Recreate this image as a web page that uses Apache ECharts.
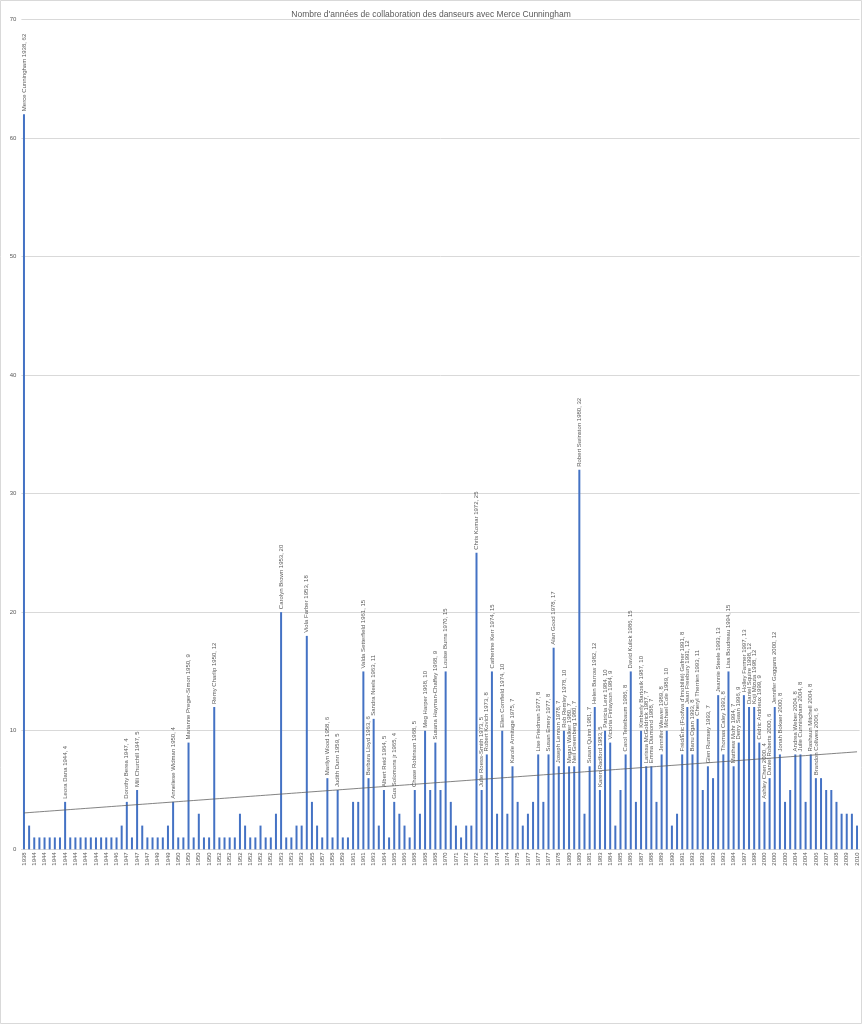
<!DOCTYPE html>
<html>
<head>
<meta charset="utf-8">
<script src="https://cdn.jsdelivr.net/npm/echarts@6/dist/echarts.min.js"></script>
<style>
html,body{margin:0;padding:0;background:#fff;}
#chart{width:862px;height:1024px;}
</style>
</head>
<body>
<div id="chart"></div>
<script>
const title = "Nombre d'années de collaboration des danseurs avec Merce Cunningham";

// start year of each dancer (category axis)
const years = [
 '1938','1944','1944','1944','1944','1944','1944','1944','1944','1944',
 '1944','1944','1944','1944','1944','1944','1944','1944','1946','1947',
 '1947','1947','1947','1947','1947','1948','1949','1949','1949','1950',
 '1950','1950','1950','1950','1950','1950','1950','1950','1952','1952',
 '1952','1952','1952','1952','1952','1952','1952','1952','1952','1952',
 '1953','1953','1953','1953','1953','1953','1955','1955','1957','1958',
 '1958','1959','1959','1960','1961','1961','1961','1963','1963','1963',
 '1964','1964','1965','1965','1966','1967','1968','1968','1968','1968',
 '1968','1969','1970','1970','1971','1971','1972','1972','1972','1973',
 '1973','1974','1974','1974','1974','1975','1975','1976','1977','1977',
 '1977','1977','1977','1978','1978','1978','1980','1980','1980','1980',
 '1981','1982','1983','1984','1984','1984','1985','1986','1986','1986',
 '1987','1987','1988','1988','1989','1989','1990','1990','1991','1991',
 '1993','1993','1993','1993','1993','1993','1993','1994','1994','1996',
 '1997','1998','1998','1999','2000','2000','2000','2000','2000','2002',
 '2004','2004','2004','2004','2006','2006','2007','2007','2008','2008',
 '2009','2009','2010'
];

// years of collaboration
const values = [
 62,2,1,1,1,1,1,1,4,1,
 1,1,1,1,1,1,1,1,1,2,
 4,1,5,2,1,1,1,1,2,4,
 1,1,9,1,3,1,1,12,1,1,
 1,1,3,2,1,1,2,1,1,3,
 20,1,1,2,2,18,4,2,1,6,
 1,5,1,1,4,4,15,6,11,2,
 5,1,4,3,2,1,5,3,10,5,
 9,5,15,4,2,1,2,2,25,5,
 8,15,3,10,3,7,4,2,3,4,
 8,4,8,17,7,10,7,7,32,3,
 7,12,5,10,9,2,5,8,15,4,
 10,7,7,4,8,10,2,3,8,12,
 8,11,5,7,6,13,8,15,7,9,
 13,12,12,9,4,6,12,8,4,5,
 8,8,4,8,6,6,5,5,4,3,
 3,3,2
];

// labelled dancers: [bar number (1-based), name]
const labelledDancers = [
 [1,'Merce Cunningham'],[9,'Leora Dana'],[21,'Dorothy Berea'],[23,'Mili Churchill'],
 [30,'Anneliese Widman'],[33,'Marianne Preger-Simon'],[38,'Remy Charlip'],
 [51,'Carolyn Brown'],[56,'Viola Farber'],[60,'Marilyn Wood'],[62,'Judith Dunn'],
 [67,'Valda Setterfield'],[68,'Barbara Lloyd'],[69,'Sandra Neels'],[71,'Albert Reid'],
 [73,'Gus Solomons jr'],[77,'Chase Robinson'],[79,'Meg Harper'],[81,'Susana Hayman-Chaffey'],
 [83,'Louise Burns'],[89,'Chris Komar'],[90,'Julie Roess-Smith'],[91,'Robert Kovich'],
 [92,'Catherine Kerr'],[94,'Ellen Cornfield'],[96,'Karole Armitage'],[101,'Lise Friedman'],
 [103,'Susan Emery'],[104,'Alan Good'],[105,'Joseph Lennon'],[106,'Rob Remley'],
 [107,'Megan Walker'],[108,'Neil Greenberg'],[109,'Robert Swinston'],[111,'Susan Quinn'],
 [112,'Helen Barrow'],[113,'Karen Radford'],[114,'Patricia Lent'],[115,'Victoria Finlayson'],
 [118,'Carol Teitelbaum'],[119,'David Kulick'],[121,'Kimberly Bartosik'],[122,'Larissa McGoldrick'],
 [123,'Emma Diamond'],[125,'Jennifer Weaver'],[126,'Michael Cole'],
 [129,"Fréd/Éric (Foofwa d'Imobilité) Gafner"],[130,'Jean Freebury'],[131,'Banu Ogan'],
 [132,'Cheryl Therrien'],[134,'Glen Rumsey'],[136,'Jeannie Steele'],[137,'Thomas Caley'],
 [138,'Lisa Boudreau'],[139,'Matthew Mohr'],[140,'Derry Swan'],[141,'Holley Farmer'],
 [142,'Daniel Squire'],[143,'Koji Mizuta'],[144,'Cédric Andrieux'],[145,'Ashley Chen'],
 [146,'Daniel Roberts'],[147,'Jennifer Goggans'],[148,'Jonah Bokaer'],[151,'Andrea Weber'],
 [152,'Julie Cunningham'],[154,'Rashaun Mitchell'],[155,'Brandon Collwes']
];

const names = years.map(() => '');
labelledDancers.forEach(([n, nm]) => { names[n - 1] = nm; });

// linear trend line (least squares)
const n = values.length;
let sx = 0, sy = 0, sxy = 0, sxx = 0;
values.forEach((v, i) => { const x = i + 1; sx += x; sy += v; sxy += x * v; sxx += x * x; });
const slope = (n * sxy - sx * sy) / (n * sxx - sx * sx);
const intercept = (sy - slope * sx) / n;
const trend = values.map((v, i) => intercept + slope * (i + 1));

const FONT = 'Liberation Sans';
const TXT = '#595959';

const barData = values.map((v, i) => ({
  value: v,
  label: { show: names[i] !== '' }
}));

const chart = echarts.init(document.getElementById('chart'), null, { renderer: 'canvas' });
chart.setOption({
  animation: false,
  backgroundColor: '#ffffff',
  textStyle: { fontFamily: FONT },
  title: {
    text: title,
    left: 'center',
    top: 5,
    textStyle: { fontFamily: FONT, fontSize: 8.5, fontWeight: 'normal', color: TXT }
  },
  grid: { left: 21.4, right: 2.4, top: 19.3, bottom: 174.7, containLabel: false },
  xAxis: {
    type: 'category',
    data: years,
    axisLine: { show: true, lineStyle: { color: '#d9d9d9', width: 1 } },
    axisTick: { show: false },
    axisLabel: {
      interval: 1,
      rotate: 90,
      fontSize: 6,
      color: TXT,
      fontFamily: FONT,
      margin: 3
    },
    splitLine: { show: false }
  },
  yAxis: {
    type: 'value',
    min: 0,
    max: 70,
    interval: 10,
    axisLine: { show: false },
    axisTick: { show: false },
    axisLabel: { fontSize: 6, color: TXT, fontFamily: FONT, margin: 5 },
    splitLine: { show: true, lineStyle: { color: '#d9d9d9', width: 1 } }
  },
  series: [
    {
      type: 'bar',
      data: barData,
      barWidth: 2,
      itemStyle: { color: '#4472C4' },
      label: {
        position: 'top',
        rotate: 90,
        align: 'left',
        verticalAlign: 'middle',
        distance: 3,
        fontSize: 6,
        color: TXT,
        fontFamily: FONT,
        formatter: (p) => names[p.dataIndex] + ' ' + years[p.dataIndex] + ', ' + p.value
      }
    },
    {
      type: 'line',
      data: trend,
      showSymbol: false,
      symbol: 'none',
      silent: true,
      lineStyle: { color: '#595959', width: 0.75 },
      z: 5
    }
  ],
  graphic: [{
    type: 'rect',
    shape: { x: 0.5, y: 0.5, width: 861, height: 1023 },
    style: { fill: null, stroke: '#d9d9d9', lineWidth: 1 },
    silent: true
  }]
});
</script>
</body>
</html>
